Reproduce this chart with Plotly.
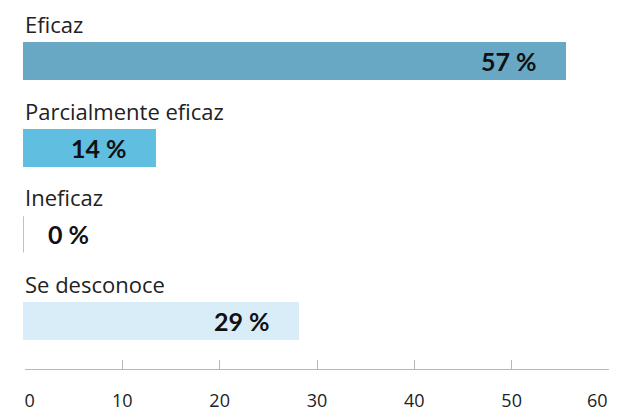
import plotly.graph_objects as go

# ---- data ----
categories = ["Eficaz", "Parcialmente eficaz", "Ineficaz", "Se desconoce"]
values = [57, 14, 0, 29]
value_labels = ["57 %", "14 %", "0 %", "29 %"]
bar_colors = ["#68a8c5", "#60bfe0", "#93cfee", "#d9edf8"]
tick_values = [0, 10, 20, 30, 40, 50, 60]
tick_labels = ["\u00a0\u00a00", "10", "20", "30", "40", "50", "60\u00a0\u00a0\u00a0\u00a0\u00a0"]

W, H = 642, 411
OFF = 8  # page body margin
positions = list(range(len(categories)))

fig = go.Figure()
fig.add_trace(go.Bar(
    x=values, y=positions, orientation="h",
    marker=dict(color=bar_colors, line=dict(width=0)),
    width=0.44, hoverinfo="skip", showlegend=False,
))
# empty trace so the tick axis subplot exists
fig.add_trace(go.Scatter(x=[None], y=[None], xaxis="x2", yaxis="y",
                         showlegend=False, hoverinfo="skip"))

# zero-length bars drawn as a thin line
for i, v in enumerate(values):
    if v == 0:
        fig.add_shape(type="line", xref="x", yref="y", x0=v, x1=v,
                      y0=i - 0.21, y1=i + 0.21,
                      line=dict(color=bar_colors[i], width=2))

label_font = dict(family="Open Sans", size=22, color="#222222")
value_font = dict(family="Lato", size=25, color="#111111")

for i, (cat, v, lab) in enumerate(zip(categories, values, value_labels)):
    fig.add_annotation(x=0, y=i, xref="x", yref="y", text=cat,
                       xanchor="left", yanchor="middle", yshift=37, xshift=0,
                       showarrow=False, font=label_font)
    if v > 0:
        fig.add_annotation(x=v, y=i, xref="x", yref="y", text="<b>%s</b>" % lab,
                           xanchor="right", yanchor="middle", xshift=-27,
                           showarrow=False, font=value_font)
    else:
        fig.add_annotation(x=v, y=i, xref="x", yref="y", text="<b>%s</b>" % lab,
                           xanchor="left", yanchor="middle", xshift=23,
                           showarrow=False, font=value_font)

fig.update_layout(
    width=W, height=H,
    margin=dict(l=0, r=0, t=0, b=50, autoexpand=False),
    paper_bgcolor="white", plot_bgcolor="rgba(0,0,0,0)",
    bargap=0,
    xaxis=dict(domain=[(23 - OFF) / W, (595 - OFF) / W], range=[0, 60], visible=False,
               fixedrange=True, automargin=False),
    xaxis2=dict(domain=[(25 - OFF) / W, (609 - OFF) / W], range=[0, 60], anchor="y",
                side="bottom",
                showline=True, linecolor="#b8b8b8", linewidth=1,
                ticks="inside", ticklen=9, tickwidth=1, tickcolor="#b8b8b8",
                tickvals=tick_values, ticktext=tick_labels,
                tickfont=dict(family="Open Sans", size=18, color="#222222"),
                ticklabelstandoff=15, automargin=False,
                showgrid=False, zeroline=False, fixedrange=True),
    yaxis=dict(range=[3.553, -0.611], visible=False, fixedrange=True, automargin=False),
)

fig.write_html("out.html", config={"displayModeBar": False})
